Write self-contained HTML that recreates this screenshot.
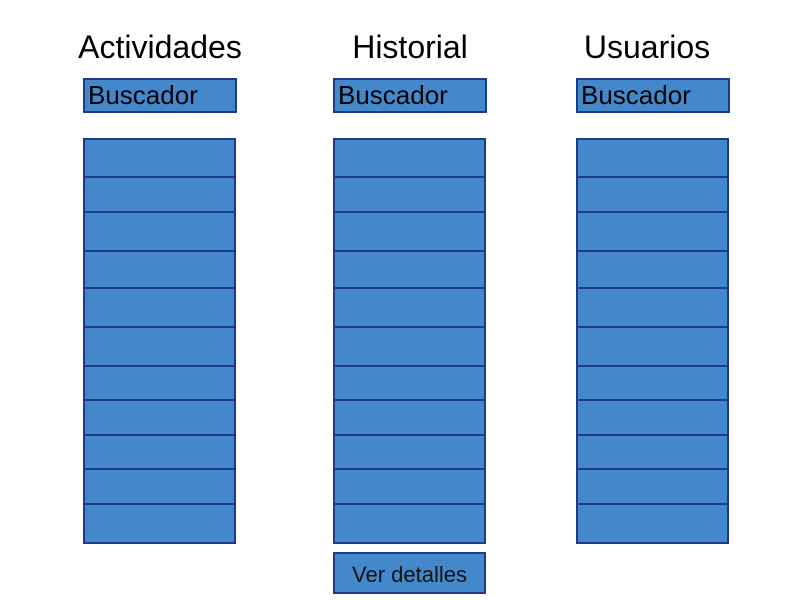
<!DOCTYPE html>
<html><head><meta charset="utf-8"><style>
body{margin:0;width:800px;height:600px;background:#fff;position:relative;overflow:hidden;font-family:"Liberation Sans",sans-serif}
.t{position:absolute;top:29px;font-size:32px;color:#000;width:200px;text-align:center}
.b{position:absolute;background:#4488cc;border:2px solid #1f3a8a;box-sizing:border-box}
.s{font-size:26px;line-height:31px;padding-left:3px;color:#000}
.r{position:absolute;background:#4488cc;border:2px solid #1f3a8a;box-sizing:border-box}
</style></head><body>
<div class="t" style="left:60px">Actividades</div>
<div class="t" style="left:310px">Historial</div>
<div class="t" style="left:547px">Usuarios</div>
<div class="b s" style="left:83px;top:78px;width:154px;height:35px">Buscador</div>
<div class="b s" style="left:333px;top:78px;width:154px;height:35px">Buscador</div>
<div class="b s" style="left:576px;top:78px;width:154px;height:35px">Buscador</div>
<div class="b" style="left:333px;top:552px;width:153px;height:42px;font-size:22px;text-align:center;line-height:41px;color:#111">Ver detalles</div>
<div id="lists"></div>
<script>
const ys=[139,177,212,251,288,327,366,400,435,469,504,543];
const xs=[[83,'actividades'],[333,'historial'],[576,'usuarios']];
const c=document.getElementById('lists');
xs.forEach(([x,n])=>{for(let i=0;i<ys.length-1;i++){const d=document.createElement('div');d.className='r';


d.style.left=x+'px';d.style.top=(ys[i]-1)+'px';d.style.width='153px';d.style.height=(ys[i+1]-ys[i]+2)+'px';c.appendChild(d);}});
</script>
</body></html>
